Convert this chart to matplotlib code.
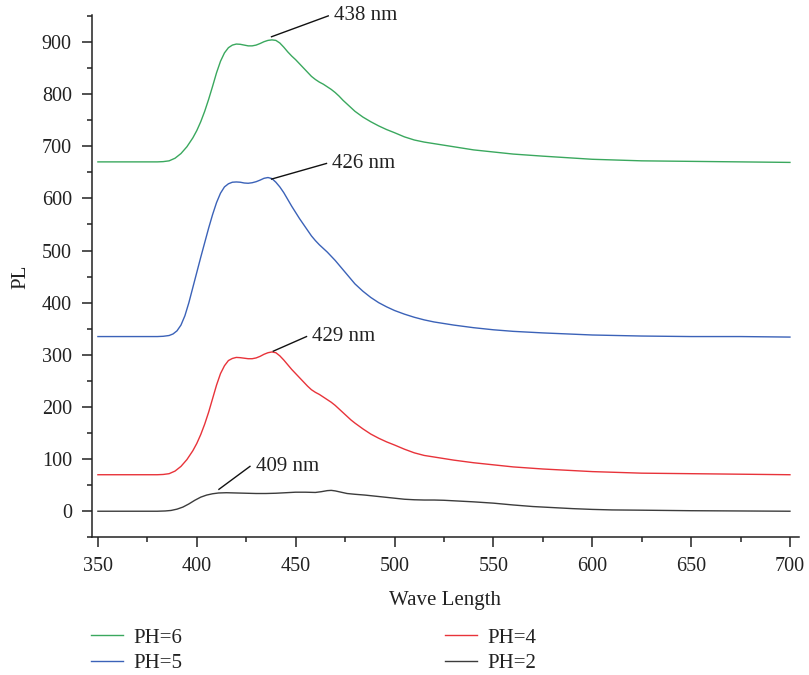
import matplotlib.pyplot as plt
from matplotlib.ticker import MultipleLocator

plt.rcParams["font.family"] = ["Liberation Serif", "DejaVu Serif"]

# PH=6
wl_ph6 = [350, 380, 383, 386, 389, 392, 395, 398, 400, 402, 404, 406, 408,
          410, 412, 414, 416, 418, 420, 422, 424, 426, 428, 430, 432, 434,
          436, 438, 440, 442, 444, 446, 448, 450, 452, 454, 456, 458, 460,
          462, 464, 466, 468, 470, 472, 474, 476, 478, 480, 484, 488, 492,
          496, 500, 505, 510, 515, 520, 530, 540, 550, 560, 575, 600, 625,
          650, 675, 700]
pl_ph6 = [670, 670, 670.5, 672, 677, 686, 699, 716, 730, 747, 767, 790, 815,
          841, 863, 879, 889, 894, 896, 895.5, 894, 892.5, 892.5, 894, 897,
          900.5, 903, 904, 903, 898, 890, 881, 873, 866, 858, 850, 842, 834,
          828, 823, 819, 814, 809, 803, 796, 788, 781, 774, 767, 756, 747,
          739, 732, 726, 718, 712, 708, 705, 699, 693, 689, 685, 681, 675,
          672, 671, 670, 669]

# PH=5
wl_ph5 = [350, 380, 383, 386, 388, 390, 392, 394, 396, 398, 400, 402, 404,
          406, 408, 410, 412, 414, 416, 418, 420, 422, 424, 426, 428, 430,
          432, 434, 436, 438, 440, 442, 444, 446, 448, 450, 452, 454, 456,
          458, 460, 462, 464, 466, 468, 470, 472, 474, 476, 478, 480, 484,
          488, 492, 496, 500, 505, 510, 515, 520, 530, 540, 550, 560, 575,
          600, 625, 650, 675, 700]
pl_ph5 = [335, 335, 335.5, 337, 340, 346, 357, 375, 400, 429, 458, 487, 515,
          543, 569, 592, 610, 622, 628, 631, 631.5, 631, 629.5, 629, 630, 632,
          635, 638.5, 640, 638, 631, 622, 611, 598, 585, 573, 561, 550, 539,
          528, 519, 511, 504, 497, 489, 481, 472, 463, 454, 445, 436, 422,
          410, 400, 392, 385, 378, 372, 367, 363, 357, 352, 348, 345, 342,
          338, 336, 335, 335, 334]

# PH=4
wl_ph4 = [350, 380, 383, 386, 389, 392, 395, 398, 400, 402, 404, 406, 408,
          410, 412, 414, 416, 418, 420, 422, 424, 426, 428, 430, 432, 434,
          436, 438, 440, 442, 444, 446, 448, 450, 452, 454, 456, 458, 460,
          462, 464, 466, 468, 470, 472, 474, 476, 478, 480, 484, 488, 492,
          496, 500, 505, 510, 515, 520, 530, 540, 550, 560, 575, 600, 625,
          650, 675, 700]
pl_ph4 = [70, 70, 70.5, 72, 77, 86, 99, 116, 130, 147, 167, 190, 216,
          242, 264, 279, 289, 293, 295, 294.5, 293.5, 292.5, 292.5, 294, 297,
          301, 304, 305.5, 304, 298, 290, 281, 272, 264, 256, 248, 240, 233,
          228, 224, 219, 214, 209, 203, 196, 189, 182, 175, 169, 158, 148,
          140, 133, 127, 119, 112, 107, 104, 98, 93, 89, 85, 81, 76,
          73, 72, 71, 70]

# PH=2
wl_ph2 = [350, 380, 384, 387, 390, 393, 396, 399, 402, 405, 408, 411, 415,
          420, 425, 430, 435, 440, 445, 450, 455, 460, 463, 466, 468, 470,
          473, 476, 480, 485, 490, 495, 500, 505, 510, 515, 520, 525, 530,
          540, 550, 560, 570, 580, 590, 600, 610, 625, 650, 675, 700]
pl_ph2 = [0, 0, 0.5, 1.5, 4, 8, 14, 21, 27, 31, 33.5, 35, 35.5,
          35, 34.5, 34, 34, 34.5, 35.5, 36.5, 36.5, 36, 37.5, 39.5, 40, 39,
          36.5, 34, 32.5, 31, 29, 27, 25, 23, 22, 21.5, 21.5, 21, 20,
          18, 15.5, 12, 9, 7, 5, 3.5, 2.5, 2, 1, 0.5, 0]

# peak labels: leader line start (wl, PL) and end (wl, PL)
peak_labels = ["438 nm", "426 nm", "429 nm", "409 nm"]
peak_start = [(437.8, 910), (437.8, 637), (438.7, 307), (411.2, 42)]
peak_end = [(466.5, 950), (465.6, 667), (455.5, 335), (426.9, 86)]

fig = plt.figure(figsize=(8.09, 6.75), dpi=100)
ax = fig.add_axes([0.1137, 0.204, 0.874, 0.774])

l6, = ax.plot(wl_ph6, pl_ph6, color="#3aa85e", lw=1.0, label="PH=6")
l5, = ax.plot(wl_ph5, pl_ph5, color="#3b62b8", lw=1.0, label="PH=5")
l4, = ax.plot(wl_ph4, pl_ph4, color="#e8333a", lw=1.0, label="PH=4")
l2, = ax.plot(wl_ph2, pl_ph2, color="#3c3c3c", lw=1.0, label="PH=2")

for text, p0, p1 in zip(peak_labels, peak_start, peak_end):
    ax.plot([p0[0], p1[0]], [p0[1], p1[1]], color="#111111", lw=1.0,
            clip_on=False)
    ax.text(p1[0] + 3, p1[1], text, fontsize=15, ha="left", va="center",
            color="#222222", clip_on=False)

ax.set_xlim(347, 704.6)
ax.set_ylim(-50, 952)

ax.xaxis.set_major_locator(MultipleLocator(50))
ax.xaxis.set_minor_locator(MultipleLocator(25))
ax.yaxis.set_minor_locator(MultipleLocator(50))
ax.set_yticks(range(0, 1000, 100))

for side in ["top", "right"]:
    ax.spines[side].set_visible(False)
for side in ["left", "bottom"]:
    ax.spines[side].set_linewidth(1.1)
    ax.spines[side].set_color("#222222")

ax.tick_params(which="major", direction="out", length=7.5, width=1.1,
               labelsize=14.5, colors="#222222", pad=7)
ax.tick_params(which="minor", direction="out", length=3.6, width=1.1,
               colors="#222222")

fig.text(21 / 809, 1 - 277 / 675, "PL", rotation=90, fontsize=15,
         ha="center", va="center", color="#222222")
fig.text(445 / 809, 1 - 601 / 675, "Wave Length", fontsize=15,
         ha="center", va="center", color="#222222")

legend_opts = dict(loc="upper left", frameon=False, fontsize=15,
                   handlelength=1.55, handletextpad=0.5, labelspacing=0.3,
                   borderpad=0, borderaxespad=0)
leg1 = fig.legend(handles=[l6, l5], bbox_to_anchor=(91 / 809, 1 - 628 / 675),
                  **legend_opts)
leg2 = fig.legend(handles=[l4, l2], bbox_to_anchor=(445 / 809, 1 - 628 / 675),
                  **legend_opts)
for leg in (leg1, leg2):
    for t in leg.get_texts():
        t.set_color("#222222")

fig.savefig("out.png", dpi=100)
